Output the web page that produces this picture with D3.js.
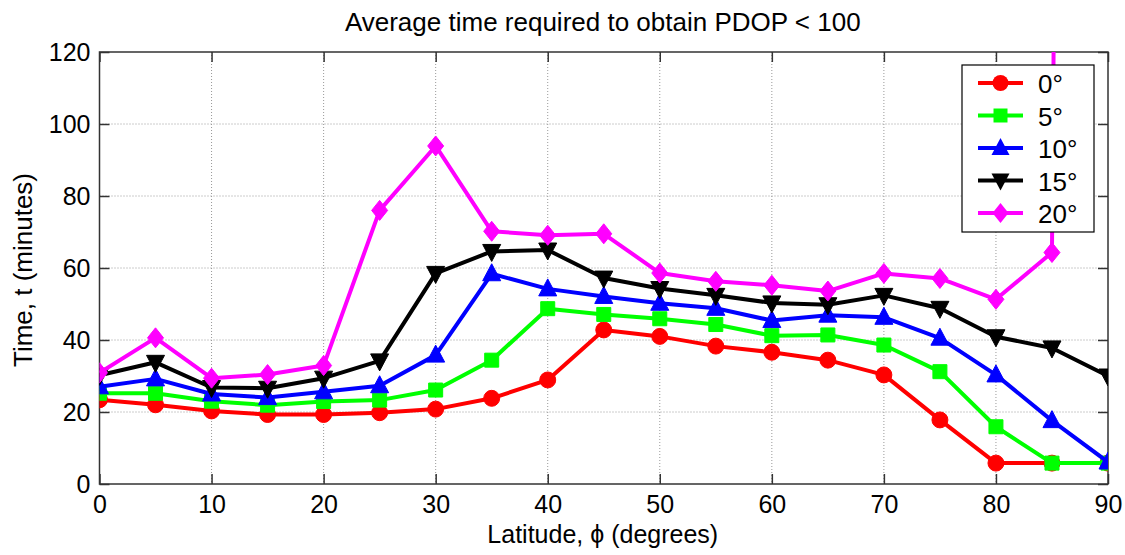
<!DOCTYPE html>
<html>
<head>
<meta charset="utf-8">
<script src="https://cdn.jsdelivr.net/npm/d3@7"></script>
<style>
  body { margin: 0; background: #fff; }
  text { font-family: "Liberation Sans", Arial, Helvetica, sans-serif; fill: #000; }
</style>
</head>
<body>
<div id="chart"></div>
<script>
const W = 1125, H = 555;
const M = { left: 99.5, right: 1108, top: 52, bottom: 484 };

const latitudes = [0, 5, 10, 15, 20, 25, 30, 35, 40, 45, 50, 55, 60, 65, 70, 75, 80, 85, 90];
const xTicks = [0, 10, 20, 30, 40, 50, 60, 70, 80, 90];
const yTicks = [0, 20, 40, 60, 80, 100, 120];
const seriesNames = ["0°", "5°", "10°", "15°", "20°"];
const seriesColors = ["#ff0000", "#00ff00", "#0000ff", "#000000", "#ff00ff"];
const seriesMarkers = ["circle", "square", "triangleUp", "triangleDown", "diamond"];

const elev0 = [23.4, 22, 20.3, 19.3, 19.3, 19.8, 20.8, 23.8, 28.9, 42.8, 41, 38.3, 36.6, 34.4, 30.3, 17.8, 5.8, 5.8, 5.8];
const elev5 = [25.2, 25.2, 23, 21.9, 22.9, 23.3, 26.1, 34.4, 48.7, 47.1, 45.9, 44.3, 41.2, 41.4, 38.6, 31.2, 15.9, 5.8, 5.8];
const elev10 = [27, 29.2, 25, 24, 25.6, 27.3, 35.8, 58.4, 54.2, 52.1, 50.2, 48.8, 45.4, 46.9, 46.3, 40.5, 30.3, 17.6, 6.1];
const elev15 = [30.2, 33.8, 26.8, 26.6, 29.4, 34.2, 58.5, 64.6, 65, 57.2, 54.3, 52.4, 50.3, 49.8, 52.4, 48.8, 40.9, 37.8, 30];
const elev20 = [30.9, 40.6, 29.4, 30.4, 32.9, 76, 93.9, 70.2, 69.1, 69.5, 58.6, 56.3, 55.2, 53.6, 58.5, 57.1, 51.3, 64.3, 2000];
const seriesValues = [elev0, elev5, elev10, elev15, elev20];

const svg = d3.select("#chart").append("svg")
  .attr("width", W)
  .attr("height", H);

const x = d3.scaleLinear().domain([0, 90]).range([M.left, M.right]);
const y = d3.scaleLinear().domain([0, 120]).range([M.bottom, M.top]);

// grid
svg.append("g")
  .selectAll("line")
  .data(xTicks.slice(1, -1))
  .enter().append("line")
  .attr("x1", d => x(d)).attr("x2", d => x(d))
  .attr("y1", M.top).attr("y2", M.bottom)
  .attr("stroke", "#999").attr("stroke-width", 1).attr("stroke-dasharray", "1,2");
svg.append("g")
  .selectAll("line")
  .data(yTicks.slice(1, -1))
  .enter().append("line")
  .attr("x1", M.left).attr("x2", M.right)
  .attr("y1", d => y(d)).attr("y2", d => y(d))
  .attr("stroke", "#999").attr("stroke-width", 1).attr("stroke-dasharray", "1,2");

// axes (ticks pointing inward, MATLAB style)
const axStyle = g => {
  g.select(".domain").remove();
  g.selectAll(".tick line").attr("stroke", "#333").attr("stroke-width", 1.5);
  g.selectAll(".tick text")
    .style("font-size", "25px")
    .style("font-family", "'Liberation Sans', Arial, sans-serif");
};
svg.append("g")
  .attr("transform", `translate(0, ${M.bottom})`)
  .call(d3.axisBottom(x).tickValues(xTicks).tickSize(-10).tickPadding(11))
  .call(axStyle);
svg.append("g")
  .attr("transform", `translate(${M.left}, 0)`)
  .call(d3.axisLeft(y).tickValues(yTicks).tickSize(-10).tickPadding(9))
  .call(axStyle);
svg.append("g")
  .attr("transform", `translate(0, ${M.top})`)
  .call(d3.axisTop(x).tickValues(xTicks).tickSize(-10).tickFormat(""))
  .call(axStyle);
svg.append("g")
  .attr("transform", `translate(${M.right}, 0)`)
  .call(d3.axisRight(y).tickValues(yTicks).tickSize(-10).tickFormat(""))
  .call(axStyle);

svg.append("rect")
  .attr("x", M.left).attr("y", M.top)
  .attr("width", M.right - M.left).attr("height", M.bottom - M.top)
  .attr("fill", "none").attr("stroke", "#333").attr("stroke-width", 1.5);

// clip
svg.append("defs").append("clipPath").attr("id", "plotclip")
  .append("rect")
  .attr("x", M.left).attr("y", M.top)
  .attr("width", M.right - M.left).attr("height", M.bottom - M.top);

const symbolFor = name => {
  if (name === "circle") return d3.symbol().type(d3.symbolCircle).size(200)();
  if (name === "square") return d3.symbol().type(d3.symbolSquare).size(196)();
  if (name === "diamond") return "M0,-10L8,0L0,10L-8,0Z";
  if (name === "triangleUp") return "M0,-10L9,7L-9,7Z";
  if (name === "triangleDown") return "M0,10L9,-7L-9,-7Z";
  return d3.symbol().size(200)();
};

const line = d3.line()
  .x((d, i) => x(latitudes[i]))
  .y(d => y(d));

const plot = svg.append("g").attr("clip-path", "url(#plotclip)");
seriesValues.forEach((vals, si) => {
  const g = plot.append("g");
  g.append("path")
    .datum(vals)
    .attr("d", line)
    .attr("fill", "none")
    .attr("stroke", seriesColors[si])
    .attr("stroke-width", 4)
    .attr("stroke-linejoin", "round");
  g.selectAll("path.mk")
    .data(vals)
    .enter().append("path")
    .attr("class", "mk")
    .attr("transform", (d, i) => `translate(${x(latitudes[i])}, ${y(d)})`)
    .attr("d", symbolFor(seriesMarkers[si]))
    .attr("fill", seriesColors[si])
    .attr("stroke", seriesColors[si])
    .attr("stroke-width", 1);
});

// legend
const lg = svg.append("g").attr("transform", "translate(962, 65)");
lg.append("rect")
  .attr("width", 132).attr("height", 167)
  .attr("fill", "#fff").attr("stroke", "#000").attr("stroke-width", 1.2);
seriesNames.forEach((name, i) => {
  const yy = 18 + i * 32.5;
  lg.append("line")
    .attr("x1", 16).attr("x2", 61).attr("y1", yy).attr("y2", yy)
    .attr("stroke", seriesColors[i]).attr("stroke-width", 4);
  lg.append("path")
    .attr("transform", `translate(38.5, ${yy})`)
    .attr("d", symbolFor(seriesMarkers[i]))
    .attr("fill", seriesColors[i]);
  lg.append("text")
    .attr("x", 76).attr("y", yy + 10)
    .style("font-size", "26px")
    .text(name);
});

// title & labels
svg.append("text")
  .attr("x", (M.left + M.right) / 2 - 1).attr("y", 31)
  .attr("text-anchor", "middle")
  .style("font-size", "26px")
  .text("Average time required to obtain PDOP < 100");
svg.append("text")
  .attr("x", (M.left + M.right) / 2 - 1).attr("y", 543)
  .attr("text-anchor", "middle")
  .style("font-size", "25px")
  .text("Latitude, ϕ (degrees)");
svg.append("text")
  .attr("transform", `translate(32, ${(M.top + M.bottom) / 2 + 2}) rotate(-90)`)
  .attr("text-anchor", "middle")
  .style("font-size", "26px")
  .text("Time, t (minutes)");
</script>
</body>
</html>
